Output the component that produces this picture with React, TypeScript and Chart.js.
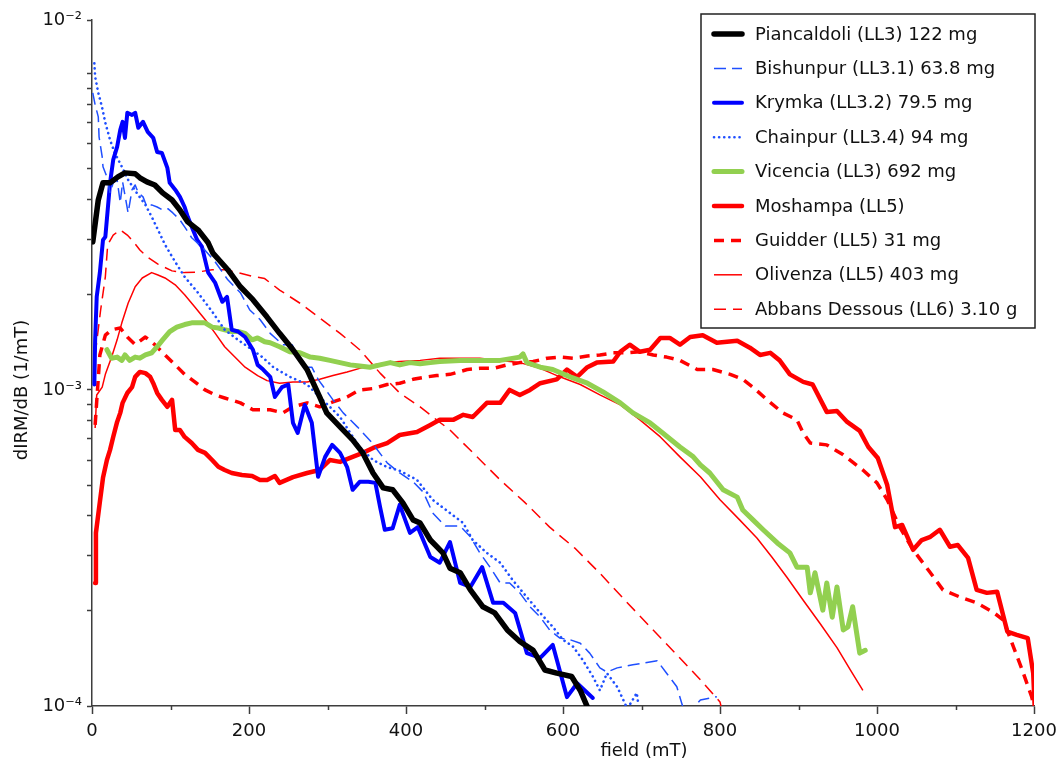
import React, { useEffect, useRef } from 'react';
import { Chart, registerables } from 'chart.js';

Chart.register(...registerables);

// ---------------- data (field in mT, dIRM/dB in units of 1e-3 1/mT) ----------------
const PIAN_X = [1, 8, 14, 23, 33, 42, 55, 61, 70, 80, 90, 102, 112, 122, 135, 148, 154, 173, 189, 205, 223, 239, 256, 274, 290, 299, 316, 332, 345, 358, 371, 383, 396, 409, 418, 431, 447, 456, 469, 482, 498, 513, 529, 545, 562, 577, 592, 611, 622, 632];
const PIAN_Y = [2.94, 3.99, 4.52, 4.52, 4.72, 4.86, 4.83, 4.69, 4.55, 4.45, 4.20, 3.99, 3.71, 3.40, 3.21, 2.92, 2.71, 2.40, 2.12, 1.93, 1.70, 1.51, 1.34, 1.16, 0.95, 0.846, 0.764, 0.695, 0.632, 0.546, 0.490, 0.483, 0.439, 0.388, 0.379, 0.335, 0.305, 0.273, 0.264, 0.233, 0.206, 0.197, 0.174, 0.160, 0.150, 0.130, 0.127, 0.124, 0.112, 0.098];

const BISH_X = [1, 4, 8, 9, 13, 14, 19, 23, 27, 32, 36, 39, 46, 51, 55, 59, 65, 70, 76, 83, 90, 97, 103, 112, 118, 127, 134, 140, 157, 173, 189, 201, 214, 227, 243, 255, 261, 271, 280, 288, 307, 320, 338, 357, 376, 392, 409, 422, 434, 450, 469, 482, 494, 507, 520, 532, 545, 558, 571, 583, 596, 609, 622, 634, 647, 656, 669, 689, 720, 732, 745, 755, 762, 775, 796];
const BISH_Y = [8.71, 7.98, 7.31, 6.32, 5.46, 5.08, 4.72, 4.20, 4.52, 4.62, 3.91, 4.55, 3.63, 4.30, 4.45, 4.20, 4.08, 3.79, 3.85, 3.79, 3.71, 3.74, 3.63, 3.45, 3.28, 3.03, 2.92, 2.84, 2.54, 2.23, 2.03, 1.79, 1.67, 1.51, 1.39, 1.39, 1.29, 1.18, 1.18, 1.08, 0.930, 0.846, 0.764, 0.679, 0.588, 0.546, 0.512, 0.475, 0.408, 0.371, 0.371, 0.343, 0.305, 0.275, 0.245, 0.245, 0.228, 0.206, 0.191, 0.174, 0.164, 0.162, 0.158, 0.147, 0.132, 0.128, 0.132, 0.135, 0.139, 0.127, 0.115, 0.095, 0.096, 0.1045, 0.107];

const KRYM_X = [3, 4, 6, 10, 14, 17, 23, 27, 32, 36, 39, 42, 45, 51, 55, 59, 65, 71, 78, 83, 89, 96, 99, 106, 112, 118, 122, 127, 134, 140, 148, 157, 166, 172, 178, 186, 195, 205, 211, 218, 227, 233, 242, 250, 256, 262, 271, 280, 288, 297, 306, 316, 325, 332, 341, 352, 361, 367, 373, 383, 392, 405, 415, 431, 443, 456, 469, 482, 497, 511, 524, 539, 554, 571, 587, 605, 618, 638];
const KRYM_Y = [1.04, 1.44, 1.97, 2.35, 2.98, 3.05, 4.52, 5.34, 5.87, 6.65, 7.05, 6.27, 7.53, 7.41, 7.53, 6.75, 7.05, 6.55, 6.27, 5.66, 5.62, 5.04, 4.52, 4.30, 4.08, 3.79, 3.53, 3.28, 2.98, 2.84, 2.35, 2.18, 1.90, 1.97, 1.55, 1.53, 1.47, 1.34, 1.20, 1.16, 1.10, 0.950, 1.02, 1.04, 0.787, 0.731, 0.897, 0.787, 0.531, 0.614, 0.670, 0.632, 0.570, 0.483, 0.512, 0.512, 0.508, 0.426, 0.361, 0.365, 0.433, 0.353, 0.368, 0.296, 0.284, 0.330, 0.245, 0.238, 0.275, 0.212, 0.212, 0.197, 0.147, 0.142, 0.156, 0.1067, 0.118, 0.106];

const CHAIN_X = [3, 4, 8, 13, 17, 23, 29, 38, 46, 57, 68, 76, 84, 93, 106, 118, 135, 153, 169, 186, 204, 217, 231, 252, 274, 290, 303, 316, 329, 341, 358, 376, 392, 414, 434, 456, 473, 485, 503, 520, 536, 554, 571, 587, 600, 613, 625, 638, 647, 656, 669, 682, 694, 696];
const CHAIN_Y = [10.8, 9.79, 8.71, 7.80, 7.00, 6.18, 5.62, 5.08, 4.62, 4.20, 3.85, 3.53, 3.21, 2.88, 2.54, 2.28, 2.03, 1.77, 1.55, 1.44, 1.34, 1.27, 1.18, 1.10, 1.04, 0.950, 0.884, 0.821, 0.731, 0.660, 0.600, 0.570, 0.555, 0.519, 0.449, 0.408, 0.379, 0.335, 0.305, 0.284, 0.250, 0.221, 0.197, 0.178, 0.162, 0.154, 0.140, 0.124, 0.112, 0.127, 0.115, 0.098, 0.110, 0.101];

const VIC_X = [19, 25, 32, 38, 42, 48, 55, 61, 68, 76, 83, 90, 99, 108, 118, 127, 135, 144, 153, 161, 169, 178, 186, 195, 204, 211, 220, 227, 239, 252, 265, 278, 290, 303, 316, 329, 341, 354, 367, 380, 392, 405, 418, 431, 443, 469, 494, 520, 545, 549, 554, 571, 587, 609, 631, 651, 673, 689, 711, 727, 749, 766, 775, 787, 804, 822, 829, 842, 855, 873, 889, 898, 911, 915, 921, 931, 936, 943, 949, 957, 963, 969, 978, 985];
const VIC_Y = [1.34, 1.26, 1.27, 1.24, 1.29, 1.24, 1.27, 1.26, 1.29, 1.31, 1.37, 1.44, 1.53, 1.58, 1.61, 1.63, 1.63, 1.63, 1.58, 1.57, 1.55, 1.53, 1.53, 1.51, 1.44, 1.46, 1.42, 1.41, 1.37, 1.32, 1.31, 1.27, 1.26, 1.24, 1.22, 1.20, 1.19, 1.18, 1.20, 1.22, 1.20, 1.22, 1.21, 1.22, 1.23, 1.24, 1.24, 1.24, 1.27, 1.30, 1.22, 1.18, 1.16, 1.10, 1.05, 0.985, 0.910, 0.846, 0.786, 0.731, 0.660, 0.614, 0.579, 0.546, 0.483, 0.458, 0.417, 0.388, 0.361, 0.328, 0.305, 0.275, 0.275, 0.228, 0.264, 0.201, 0.245, 0.191, 0.238, 0.174, 0.178, 0.206, 0.147, 0.150];

const MOSH_X = [4, 5, 10, 14, 19, 23, 27, 32, 36, 39, 45, 51, 55, 61, 68, 74, 78, 83, 89, 96, 102, 106, 112, 118, 127, 135, 144, 153, 161, 169, 178, 191, 204, 214, 223, 233, 239, 256, 274, 290, 303, 316, 332, 345, 358, 376, 392, 414, 431, 443, 460, 473, 485, 503, 520, 532, 545, 558, 571, 592, 605, 618, 631, 643, 664, 673, 685, 698, 711, 724, 736, 749, 762, 778, 796, 822, 838, 851, 864, 876, 889, 906, 918, 936, 949, 962, 978, 989, 1001, 1013, 1023, 1032, 1046, 1057, 1068, 1080, 1093, 1103, 1116, 1127, 1140, 1153, 1166, 1178, 1192, 1199, 1201];
const MOSH_Y = [0.245, 0.353, 0.442, 0.527, 0.600, 0.646, 0.710, 0.792, 0.846, 0.910, 0.978, 1.02, 1.10, 1.14, 1.13, 1.10, 1.05, 0.978, 0.930, 0.884, 0.930, 0.747, 0.747, 0.710, 0.679, 0.646, 0.632, 0.600, 0.571, 0.558, 0.546, 0.538, 0.534, 0.519, 0.519, 0.534, 0.508, 0.530, 0.546, 0.558, 0.600, 0.592, 0.614, 0.632, 0.655, 0.679, 0.720, 0.736, 0.775, 0.804, 0.804, 0.834, 0.821, 0.910, 0.910, 1.00, 0.964, 1.00, 1.05, 1.08, 1.16, 1.10, 1.18, 1.22, 1.23, 1.32, 1.39, 1.32, 1.34, 1.46, 1.46, 1.39, 1.47, 1.49, 1.41, 1.43, 1.36, 1.29, 1.31, 1.24, 1.12, 1.06, 1.04, 0.852, 0.858, 0.792, 0.742, 0.660, 0.609, 0.500, 0.368, 0.374, 0.312, 0.335, 0.343, 0.361, 0.319, 0.323, 0.294, 0.233, 0.228, 0.230, 0.172, 0.168, 0.164, 0.127, 0.098];

const GUID_X = [4, 10, 17, 25, 36, 45, 55, 68, 80, 93, 106, 118, 131, 144, 157, 169, 189, 205, 227, 243, 256, 274, 290, 307, 325, 341, 358, 376, 392, 409, 427, 439, 456, 478, 494, 511, 529, 545, 562, 580, 596, 613, 631, 647, 664, 682, 698, 715, 732, 749, 771, 791, 813, 829, 842, 860, 880, 898, 906, 915, 936, 957, 982, 1000, 1013, 1029, 1046, 1068, 1084, 1106, 1127, 1148, 1161, 1172, 1185, 1197, 1201];
const GUID_Y = [0.775, 1.29, 1.49, 1.55, 1.57, 1.47, 1.39, 1.47, 1.39, 1.29, 1.20, 1.12, 1.06, 1.00, 0.964, 0.943, 0.910, 0.865, 0.865, 0.846, 0.884, 0.910, 0.884, 0.916, 0.950, 1.00, 1.01, 1.04, 1.05, 1.08, 1.10, 1.11, 1.12, 1.16, 1.17, 1.17, 1.20, 1.22, 1.23, 1.26, 1.27, 1.26, 1.28, 1.29, 1.31, 1.31, 1.32, 1.29, 1.27, 1.24, 1.16, 1.16, 1.12, 1.08, 1.02, 0.930, 0.846, 0.804, 0.731, 0.679, 0.670, 0.623, 0.558, 0.508, 0.449, 0.368, 0.312, 0.264, 0.233, 0.221, 0.212, 0.198, 0.187, 0.158, 0.130, 0.107, 0.098];

const OLIV_X = [4, 6, 13, 17, 25, 32, 38, 46, 55, 64, 76, 84, 93, 106, 118, 131, 144, 157, 169, 182, 195, 211, 223, 239, 256, 274, 290, 307, 325, 341, 358, 376, 392, 418, 443, 469, 494, 520, 545, 571, 596, 622, 647, 673, 698, 724, 749, 775, 800, 825, 847, 866, 885, 906, 927, 949, 966, 982];
const OLIV_Y = [0.758, 0.964, 1.02, 1.12, 1.27, 1.44, 1.63, 1.88, 2.12, 2.26, 2.35, 2.31, 2.26, 2.15, 2.00, 1.83, 1.67, 1.51, 1.37, 1.27, 1.18, 1.11, 1.07, 1.05, 1.06, 1.06, 1.08, 1.11, 1.14, 1.17, 1.20, 1.22, 1.23, 1.24, 1.26, 1.26, 1.26, 1.24, 1.22, 1.17, 1.10, 1.04, 0.964, 0.897, 0.804, 0.710, 0.614, 0.531, 0.449, 0.388, 0.340, 0.296, 0.256, 0.216, 0.183, 0.153, 0.130, 0.112];

const ABB_X = [4, 11, 17, 20, 27, 36, 45, 52, 61, 70, 84, 102, 118, 135, 153, 169, 186, 204, 220, 239, 265, 290, 316, 341, 367, 392, 418, 439, 456, 488, 520, 552, 583, 615, 647, 679, 711, 743, 775, 800, 802];
const ABB_Y = [1.29, 1.79, 2.28, 2.88, 3.09, 3.21, 3.09, 2.96, 2.77, 2.64, 2.50, 2.38, 2.35, 2.36, 2.40, 2.40, 2.35, 2.29, 2.25, 2.07, 1.88, 1.69, 1.51, 1.34, 1.13, 0.978, 0.884, 0.804, 0.747, 0.623, 0.519, 0.439, 0.368, 0.316, 0.263, 0.216, 0.178, 0.147, 0.121, 0.103, 0.098];

const LABELS = [
  'Piancaldoli (LL3) 122 mg',
  'Bishunpur (LL3.1) 63.8 mg',
  'Krymka (LL3.2) 79.5 mg',
  'Chainpur (LL3.4) 94 mg',
  'Vicencia (LL3) 692 mg',
  'Moshampa (LL5)',
  'Guidder (LL5) 31 mg',
  'Olivenza (LL5) 403 mg',
  'Abbans Dessous (LL6) 3.10 g',
];

const X_MIN = 0;
const X_MAX = 1200;
const X_STEP = 100;
const X_LABEL_STEP = 200;
const Y_MIN = 1e-4;
const Y_MAX = 0.0148;
const Y_TICKS = [1e-4, 2e-4, 3e-4, 4e-4, 5e-4, 6e-4, 7e-4, 8e-4, 9e-4, 1e-3, 2e-3, 3e-3, 4e-3, 5e-3, 6e-3, 7e-3, 8e-3, 9e-3, 1e-2, Y_MAX];
const Y_TICK_LABELS: [number, string][] = [[1e-4, '10⁻⁴'], [1e-3, '10⁻³'], [Y_MAX, '10⁻²']];
const X_TITLE = 'field (mT)';
const Y_TITLE = 'dIRM/dB (1/mT)';
const UNIT = 1e-3;

// ---------------- styles ----------------
const FONT = '"DejaVu Sans", Verdana, sans-serif';
const AXIS_COLOR = '#3d3d3d';
const TEXT_COLOR = '#111111';

type Style = { color: string; width: number; dash: number[]; cap: CanvasLineCap };
const STYLES: Style[] = [
  { color: '#000000', width: 5.5, dash: [], cap: 'round' },
  { color: '#1f4fff', width: 1.5, dash: [12, 6], cap: 'butt' },
  { color: '#0000ff', width: 4, dash: [], cap: 'round' },
  { color: '#1f4fff', width: 2.6, dash: [0.1, 5], cap: 'round' },
  { color: '#92d050', width: 5, dash: [], cap: 'round' },
  { color: '#ff0000', width: 4.5, dash: [], cap: 'round' },
  { color: '#ff0000', width: 3.5, dash: [10, 7], cap: 'butt' },
  { color: '#ff0000', width: 1.5, dash: [], cap: 'butt' },
  { color: '#ff0000', width: 1.5, dash: [12, 7], cap: 'butt' },
];

const SERIES_X = [PIAN_X, BISH_X, KRYM_X, CHAIN_X, VIC_X, MOSH_X, GUID_X, OLIV_X, ABB_X];
const SERIES_Y = [PIAN_Y, BISH_Y, KRYM_Y, CHAIN_Y, VIC_Y, MOSH_Y, GUID_Y, OLIV_Y, ABB_Y];

const overlayPlugin = {
  id: 'overlay',
  afterDraw(chart: any) {
    const ctx: CanvasRenderingContext2D = chart.ctx;
    const xs = chart.scales.x;
    const area = chart.chartArea;
    ctx.save();
    // minor x ticks
    ctx.strokeStyle = AXIS_COLOR;
    ctx.lineWidth = 1.5;
    for (let v = X_MIN; v <= X_MAX; v += X_STEP) {
      if (v % X_LABEL_STEP === 0) continue;
      const px = Math.round(xs.getPixelForValue(v)) + 0.5;
      ctx.beginPath();
      ctx.moveTo(px, area.bottom);
      ctx.lineTo(px, area.bottom + 4);
      ctx.stroke();
    }
    // axis titles
    ctx.fillStyle = TEXT_COLOR;
    ctx.font = `18px ${FONT}`;
    ctx.textAlign = 'center';
    ctx.textBaseline = 'middle';
    ctx.fillText(X_TITLE, 644, 751);
    ctx.save();
    ctx.translate(22, 390);
    ctx.rotate(-Math.PI / 2);
    ctx.fillText(Y_TITLE, 0, 0);
    ctx.restore();

    // legend
    const bx = 701, by = 14, bw = 334, bh = 314;
    ctx.fillStyle = '#ffffff';
    ctx.fillRect(bx, by, bw, bh);
    ctx.strokeStyle = '#222222';
    ctx.lineWidth = 1.5;
    ctx.setLineDash([]);
    ctx.strokeRect(bx, by, bw, bh);
    const rowH = 34.4;
    LABELS.forEach((label, i) => {
      const st = STYLES[i];
      const yy = by + 20 + i * rowH;
      ctx.save();
      ctx.strokeStyle = st.color;
      ctx.lineWidth = st.width;
      ctx.lineCap = st.cap;
      ctx.setLineDash(st.dash);
      ctx.beginPath();
      ctx.moveTo(714, yy);
      ctx.lineTo(742, yy);
      ctx.stroke();
      ctx.restore();
      ctx.fillStyle = TEXT_COLOR;
      ctx.font = `18px ${FONT}`;
      ctx.textAlign = 'left';
      ctx.textBaseline = 'middle';
      ctx.fillText(label, 755, yy + 1);
    });
    ctx.restore();
  },
};

export default function App() {
  const ref = useRef<HTMLCanvasElement | null>(null);

  useEffect(() => {
    if (!ref.current) return;
    Chart.defaults.font.family = FONT;
    const datasets = LABELS.map((label, i) => ({
      label,
      data: SERIES_X[i].map((x, j) => ({ x, y: SERIES_Y[i][j] * UNIT })),
      borderColor: STYLES[i].color,
      backgroundColor: STYLES[i].color,
      borderWidth: STYLES[i].width,
      borderDash: STYLES[i].dash,
      borderCapStyle: STYLES[i].cap,
      borderJoinStyle: 'round' as const,
      pointRadius: 0,
      tension: 0,
      fill: false,
    }));

    const chart = new Chart(ref.current, {
      type: 'line',
      data: { datasets },
      plugins: [overlayPlugin],
      options: {
        animation: false,
        responsive: false,
        devicePixelRatio: 1,
        parsing: true,
        layout: { padding: { left: 0, top: 20, right: 30, bottom: 0 } },
        plugins: {
          legend: { display: false },
          tooltip: { enabled: false },
        },
        scales: {
          x: {
            type: 'linear',
            min: X_MIN,
            max: X_MAX,
            afterFit: (s: any) => { s.height = 64; },
            border: { display: true, color: AXIS_COLOR, width: 1.5 },
            grid: {
              drawOnChartArea: false,
              drawTicks: true,
              tickLength: 8,
              tickWidth: 1.5,
              tickColor: (c: any) => (c.tick && c.tick.value % X_LABEL_STEP === 0 ? AXIS_COLOR : 'rgba(0,0,0,0)'),
            },
            ticks: {
              stepSize: X_STEP,
              autoSkip: false,
              maxRotation: 0,
              padding: 7,
              color: TEXT_COLOR,
              font: { size: 18, family: FONT },
              callback: (v: any) => (Number(v) % X_LABEL_STEP === 0 ? String(v) : ''),
            },
          },
          y: {
            type: 'logarithmic',
            min: Y_MIN,
            max: Y_MAX,
            afterFit: (s: any) => { s.width = 92; },
            afterBuildTicks: (s: any) => { s.ticks = Y_TICKS.map((v) => ({ value: v })); },
            border: { display: true, color: AXIS_COLOR, width: 1.5 },
            grid: {
              drawOnChartArea: false,
              drawTicks: true,
              tickLength: 5,
              tickWidth: 1.5,
              tickColor: AXIS_COLOR,
            },
            ticks: {
              autoSkip: false,
              padding: 5,
              color: TEXT_COLOR,
              font: { size: 18, family: FONT },
              callback: (v: any) => {
                const n = Number(v);
                const hit = Y_TICK_LABELS.find(([t]) => Math.abs(n - t) / t < 1e-6);
                return hit ? hit[1] : '';
              },
            },
          },
        },
      } as any,
    });
    return () => chart.destroy();
  }, []);

  return (
    <div style={{ position: 'absolute', left: 0, top: 0, width: 1064, height: 770, background: '#fff' }}>
      <canvas ref={ref} width={1064} height={770} style={{ display: 'block' }} />
    </div>
  );
}
